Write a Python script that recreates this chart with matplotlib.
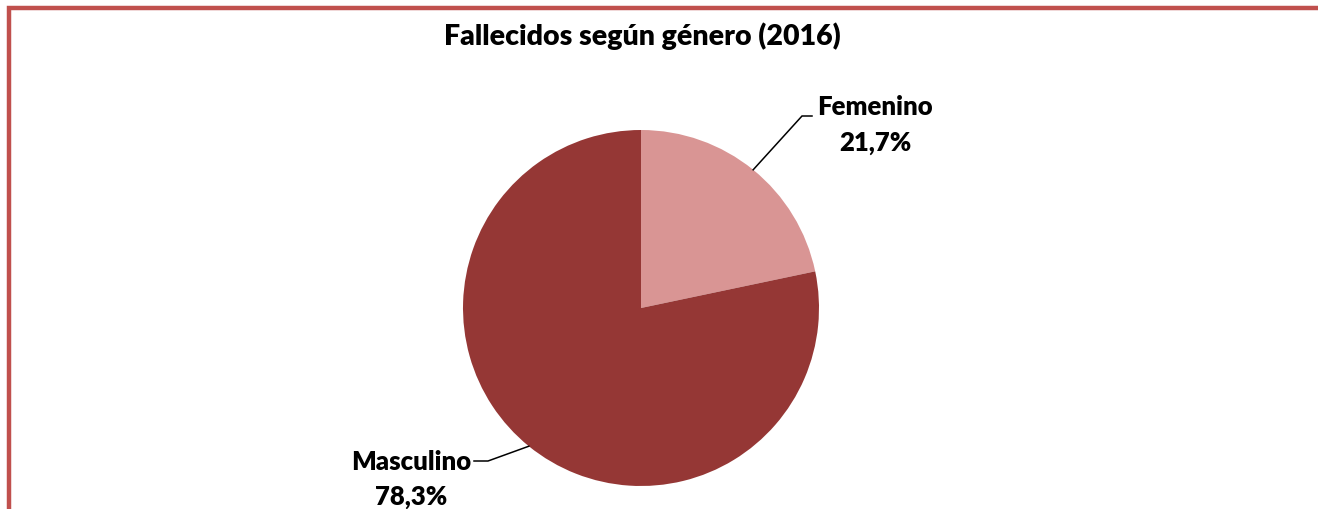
import numpy as np
import matplotlib
matplotlib.use("Agg")
import matplotlib.pyplot as plt
from matplotlib.patches import Rectangle

title = "Fallecidos según género (2016)"
categories = ["Femenino", "Masculino"]
values = [21.7, 78.3]
colors = ["#D99594", "#953735"]

W, H = 1318, 510
fig = plt.figure(figsize=(W / 100, H / 100), dpi=100)
ax = fig.add_axes([0, 0, 1, 1])

cx, cy, r = 641, 510 - 309, 178
wedges, _ = ax.pie(values, colors=colors, startangle=90, counterclock=False,
                   center=(cx, cy), radius=r, wedgeprops=dict(linewidth=0))
ax.set_xlim(0, W)
ax.set_ylim(0, H)
ax.set_aspect("equal")
ax.axis("off")

font = dict(family=["Lato", "DejaVu Sans"], fontweight="heavy", color="black")

# border
ax.add_patch(Rectangle((9, -60), W + 100, H - 9 + 60, fill=False,
                       edgecolor="#C0504D", linewidth=3.2, clip_on=False))

ax.text(642, H - 36, title, ha="center", va="center", fontsize=20.5, **font)

# labels with leader lines
label_cfg = {
    "Femenino": dict(elbow=(802, H - 117), end=(812, H - 117), txt=(875, H - 107), txt2=(875, H - 143)),
    "Masculino": dict(elbow=(488, H - 462), end=(474, H - 462), txt=(411, H - 462), txt2=(411, H - 497)),
}
for w, cat, v in zip(wedges, categories, values):
    ang = np.deg2rad((w.theta1 + w.theta2) / 2)
    p0 = (cx + r * np.cos(ang), cy + r * np.sin(ang))
    cfg = label_cfg[cat]
    ax.plot([p0[0], cfg["elbow"][0], cfg["end"][0]],
            [p0[1], cfg["elbow"][1], cfg["end"][1]], color="black", lw=1.1,
            solid_joinstyle="miter")
    ax.text(cfg["txt"][0], cfg["txt"][1], cat, ha="center", va="center", fontsize=18.5, **font)
    ax.text(cfg["txt2"][0], cfg["txt2"][1], f"{v:.1f}%".replace(".", ","),
            ha="center", va="center", fontsize=18.5, **font)

fig.savefig("out.png", dpi=100, facecolor="white")
